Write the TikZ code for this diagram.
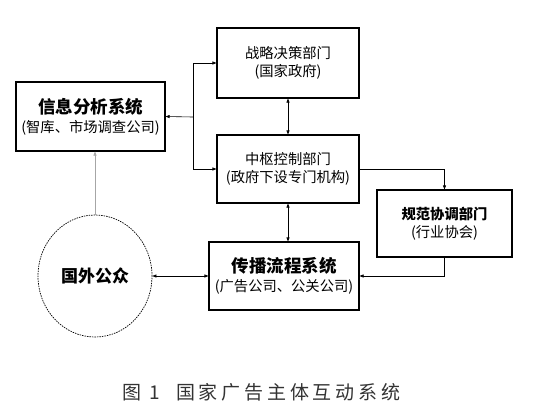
\documentclass[tikz,border=0pt]{standalone}
\usepackage{fontspec}
\usepackage{tikz}
\usetikzlibrary{arrows.meta}
\usetikzlibrary{shapes.geometric}
\newfontfamily\cjk{Noto Sans CJK SC}
\newfontfamily\cjkcap[LetterSpace=20]{Noto Sans CJK SC}
\colorlet{link gray}{gray!70}

\begin{document}
\begin{tikzpicture}[x=1pt,y=-1pt,
		box/.style={draw, line width=1.1pt, align=center, inner sep=0pt, font=\cjk\fontsize{14.3}{18}\selectfont},
		head/.style={font=\cjk\bfseries\fontsize{17}{20}\selectfont},
		link/.style={line width=0.6pt, -{Triangle[length=4pt,width=3pt]}},
		both/.style={line width=0.6pt, {Triangle[length=4pt,width=3pt]}-{Triangle[length=4pt,width=3pt]}}]
			\useasboundingbox (0,0) rectangle (551,416);
			% boxes
			\node[box, minimum width=142pt, minimum height=70pt] (strat) at (288,63)
				{战略决策部门\\(国家政府)};
			\node[box, minimum width=149pt, minimum height=69pt] (info) at (90.5,116.5)
				{{\bfseries\fontsize{17.5}{20}\selectfont 信息分析系统}\\[1pt](智库、市场调查公司)};
			\node[box, minimum width=142pt, minimum height=68pt] (ctrl) at (288,169)
				{中枢控制部门\\(政府下设专门机构)};
			\node[box, minimum width=135pt, minimum height=67pt] (regul) at (444.5,223.5)
				{{\bfseries 规范协调部门}\\(行业协会)};
			\node[box, minimum width=150pt, minimum height=68pt] (spread) at (284,276)
				{{\bfseries\fontsize{17.5}{20}\selectfont 传播流程系统}\\[1pt](广告公司、公关公司)};
			\node[draw, ellipse, dash pattern=on 1.5pt off 1pt, line width=0.7pt,
				minimum width=114pt, minimum height=122pt, inner sep=0pt, head] (public) at (95,276)
				{国外公众};
			% connectors
			\coordinate (jn) at (193,117);
			\draw[link] (jn) -- (info.east);
			\draw[link] (jn) |- (strat.west);
			\draw[link] (jn) |- (ctrl.west);
			\draw[both] (strat.south) -- (ctrl.north);
			\draw[both] (ctrl.south) -- (ctrl.south |- spread.north);
			\draw[link] (ctrl.east) -| (regul.north);
			\draw[link] (regul.south) |- (spread.east);
			\draw[both] (public.east) -- (spread.west);
			\draw[link, color=link gray] (public.north) -- (public.north |- info.south);
			% caption
			\node[anchor=west, text=black!80, font=\cjkcap\fontsize{19}{21}\selectfont] (cap) at (119,392)
				{图 1\hspace{16pt}国家广告主体互动系统};
		\end{tikzpicture}
\end{document}
